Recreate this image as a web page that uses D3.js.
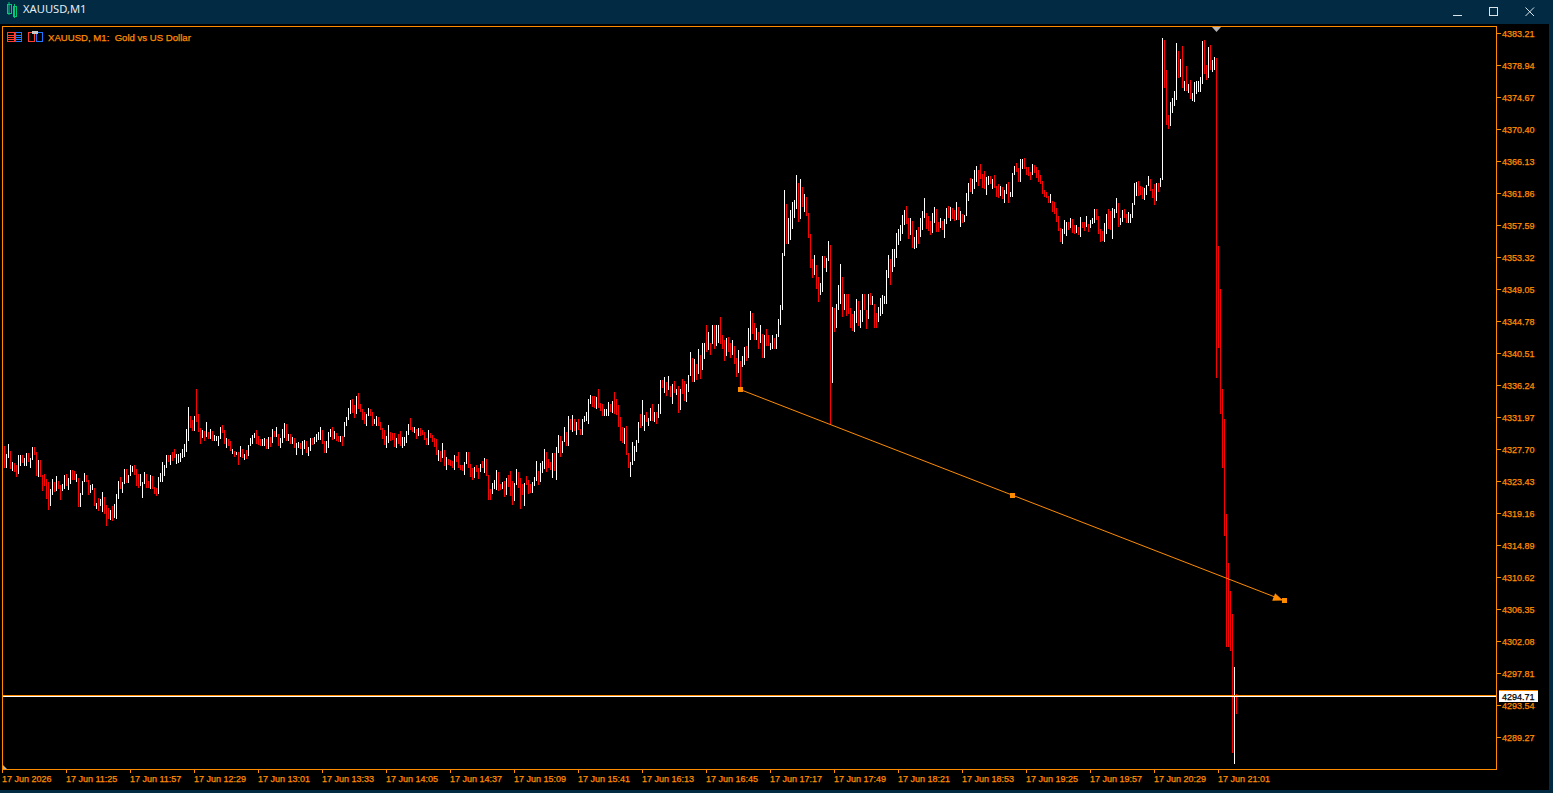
<!DOCTYPE html>
<html><head><meta charset="utf-8"><title>XAUUSD,M1</title>
<script src="https://cdn.jsdelivr.net/npm/d3@7/dist/d3.min.js"></script>
<style>html,body{margin:0;padding:0;background:#032a43;overflow:hidden}svg{display:block}</style>
</head><body><div id="chart"></div>
<script>
const symbolTitle = "XAUUSD,M1";
const chartLabel = "XAUUSD, M1:  Gold vs US Dollar";
const PRICE_BASE = 4280; // bar prices below are dollars above this level
const firstBarTime = "2026-06-17T10:54:00Z";
const highs = [
48.1,47.0,48.4,47.4,46.0,45.8,45.6,46.9,46.9,46.9,
46.5,47.2,47.2,46.5,48.0,48.0,47.3,46.2,46.2,44.2,
44.4,43.7,43.3,42.4,43.7,43.3,44.1,43.4,42.9,43.0,
44.2,44.4,43.8,44.9,44.9,44.8,44.4,43.8,41.8,43.4,
44.5,44.2,43.6,42.9,43.0,42.5,40.5,41.2,41.0,42.0,
41.3,40.2,39.8,39.5,40.1,40.3,41.7,43.4,43.9,43.3,
45.0,45.0,44.2,45.6,45.4,45.6,45.0,44.4,44.4,43.3,
44.6,44.4,43.4,44.2,44.1,42.6,42.5,44.0,44.5,46.0,
45.6,46.9,46.9,46.9,47.3,47.7,47.0,47.0,47.2,47.7,
48.4,50.4,53.3,52.1,51.6,52.1,55.7,52.4,50.5,50.2,
50.1,51.3,50.0,50.4,50.1,49.6,49.4,49.4,50.6,50.9,
50.2,49.2,49.0,48.8,47.7,47.4,47.3,47.3,48.1,47.7,
47.0,47.6,48.2,49.2,49.6,49.8,50.2,49.4,49.0,49.0,
49.2,49.0,49.3,49.3,50.4,50.1,50.6,49.7,49.2,50.4,
51.2,51.0,49.7,49.7,49.3,49.2,48.5,48.6,48.5,48.8,
48.9,48.8,48.0,49.2,49.2,49.3,49.7,50.0,50.6,50.2,
48.8,48.8,50.0,50.4,50.6,50.1,49.8,49.4,49.4,49.4,
51.3,52.0,53.2,54.2,54.4,53.6,54.8,55.2,53.7,53.0,
52.6,52.4,53.2,53.0,52.6,51.7,52.1,52.0,51.3,50.5,
50.2,49.4,50.9,50.0,49.8,49.8,49.2,49.7,50.1,49.3,
49.3,50.1,51.0,51.8,50.6,50.6,50.4,50.5,50.5,50.2,
50.0,49.2,50.2,49.8,49.6,49.2,49.0,47.6,47.4,48.5,
47.6,46.6,46.4,46.2,46.1,46.9,46.8,47.3,45.6,45.6,
46.0,47.3,47.3,45.7,45.2,45.3,45.6,45.2,45.7,46.1,
46.5,46.4,44.2,42.4,43.2,43.6,44.9,44.6,43.0,43.3,
43.4,43.8,44.2,44.8,43.4,43.2,45.0,44.6,43.8,43.0,
43.2,44.1,43.6,43.0,43.3,44.0,46.1,44.8,45.8,46.1,
47.7,47.3,46.4,46.0,47.2,47.2,48.0,49.6,49.4,48.8,
50.6,50.0,52.1,51.7,52.2,51.7,51.3,51.7,50.4,51.7,
52.1,52.6,54.4,54.9,54.8,54.8,54.6,55.7,53.8,53.7,
53.0,53.0,54.0,53.7,54.1,55.3,54.4,53.6,52.0,50.6,
50.5,50.8,47.2,46.0,48.6,48.1,48.9,51.3,52.4,54.2,
52.2,52.6,51.8,53.2,53.7,52.6,52.6,53.7,56.9,56.9,
57.3,56.6,57.4,56.1,56.4,56.8,55.7,56.1,55.7,57.0,
56.8,56.4,57.6,60.7,59.8,59.7,59.0,61.0,60.2,61.8,
61.9,64.3,63.3,61.9,64.3,64.3,64.3,64.2,65.3,62.9,
62.2,62.5,62.7,61.8,62.2,61.5,59.9,60.9,59.4,60.1,
61.3,61.4,63.9,66.1,65.8,64.5,63.9,63.3,64.3,63.1,
62.9,63.7,62.9,61.9,62.9,62.5,63.1,65.0,66.9,73.8,
82.2,80.4,78.5,79.6,80.6,80.9,84.2,83.2,83.7,82.6,
81.7,81.3,79.2,76.4,73.0,73.6,72.2,70.6,69.9,73.4,
73.4,73.2,75.4,74.9,66.7,66.5,67.0,69.6,72.4,70.6,
68.4,68.4,68.4,66.5,65.7,66.1,67.7,67.4,66.3,68.4,
68.4,66.2,68.4,68.5,68.1,67.1,65.9,66.7,67.8,68.2,
68.1,71.6,73.6,73.0,74.4,74.4,76.5,77.0,77.6,78.9,
79.6,80.1,78.5,78.5,78.1,76.0,76.9,77.3,78.5,79.5,
81.2,79.2,78.8,78.1,79.2,80.0,79.7,78.0,78.5,78.1,
78.4,79.9,80.1,80.0,79.9,79.6,80.7,80.0,79.5,79.1,
78.9,81.9,83.2,83.9,83.7,84.9,85.5,84.9,85.7,84.4,
84.8,84.0,84.1,84.1,83.7,84.3,82.8,83.1,82.8,82.7,
82.3,83.1,83.3,82.0,84.5,85.5,85.9,85.2,86.4,86.4,
86.5,85.3,85.3,84.7,85.7,85.6,85.3,84.9,84.3,83.5,
82.3,82.0,81.5,81.7,80.8,80.7,79.9,78.8,77.2,77.1,
78.3,78.0,78.0,78.5,78.4,77.6,77.6,77.3,78.7,78.0,
78.0,78.8,77.7,78.3,78.5,79.7,79.7,78.8,77.1,76.8,
77.9,79.1,79.7,79.5,79.9,79.7,81.2,80.5,78.5,79.6,
79.7,79.1,79.3,79.1,80.5,83.2,83.3,83.5,82.8,82.7,
82.5,82.9,84.1,83.7,82.4,83.1,83.2,83.2,83.9,102.6,
102.3,98.3,92.3,94.0,94.6,95.5,101.9,100.8,99.8,101.5,
96.8,98.8,96.4,96.9,95.2,96.7,96.8,96.8,97.4,102.2,
102.3,99.0,101.4,101.6,99.6,100.0,99.9,74.8,69.1,55.7,
51.7,39.0,32.5,28.8,25.7,18.6,15.0];
const lows = [
45.2,45.2,46.5,45.0,44.7,44.6,43.9,44.3,45.4,45.8,
45.4,45.4,46.0,45.2,46.2,46.9,44.1,44.0,44.0,42.1,
42.8,41.0,39.5,40.1,41.6,42.0,42.1,42.4,40.9,42.1,
42.4,42.8,42.2,43.0,43.6,43.6,43.3,39.9,39.9,41.6,
43.3,43.3,41.6,41.8,42.2,40.1,39.7,39.4,40.1,39.3,
39.0,37.4,38.3,38.2,38.1,38.5,38.3,41.0,42.4,41.8,
43.0,43.2,43.2,44.1,44.6,44.2,42.8,42.5,42.8,41.2,
43.0,42.5,42.5,42.4,42.4,41.7,41.4,41.7,43.3,43.3,
44.1,45.2,46.0,45.6,46.1,46.5,45.7,45.8,46.0,46.5,
46.6,47.3,48.8,50.5,50.1,50.1,51.3,50.0,48.4,49.2,
48.8,49.3,49.0,49.0,48.8,48.8,48.8,48.1,49.0,49.8,
48.4,47.8,48.1,47.4,47.0,46.6,46.9,45.6,46.6,46.5,
46.2,46.4,46.8,48.1,48.4,49.2,48.4,48.2,48.1,48.1,
48.1,47.7,47.7,48.0,48.5,49.3,49.3,48.1,47.8,48.5,
49.2,48.8,48.8,48.4,48.4,47.8,46.9,47.8,47.7,46.9,
47.7,47.2,46.8,47.4,48.2,48.4,48.6,48.9,48.9,48.4,
47.2,47.2,47.8,49.3,48.9,49.0,48.8,48.6,48.6,48.1,
49.3,50.8,51.6,52.4,52.5,51.8,52.4,53.0,52.6,51.6,
51.0,50.8,52.1,52.1,50.8,51.0,50.8,50.8,50.2,49.0,
48.2,47.8,48.5,48.8,48.9,48.0,47.8,48.4,48.1,47.8,
48.1,48.5,49.6,50.2,50.0,49.8,49.0,49.4,49.4,49.6,
48.9,48.2,48.2,49.2,48.6,48.0,46.9,46.1,46.0,46.5,
45.4,44.9,45.6,45.4,45.2,44.9,46.0,45.2,44.9,44.8,
44.2,45.7,45.2,44.0,43.6,43.8,44.6,43.7,44.6,45.2,
44.5,44.1,40.9,40.9,41.7,42.4,42.2,42.1,42.2,42.4,
41.3,41.6,42.6,41.4,40.2,40.7,42.9,42.5,39.7,41.6,
40.1,42.9,41.7,41.8,41.8,42.8,43.4,42.9,43.3,44.5,
45.0,44.6,45.2,44.9,43.8,44.8,43.6,47.2,46.6,47.2,
48.6,48.1,48.1,50.2,50.0,50.1,49.6,50.2,49.6,49.6,
51.3,51.4,51.0,53.7,53.3,53.2,53.0,53.2,52.8,52.1,
52.1,52.1,52.1,52.6,52.5,52.4,52.2,50.6,48.8,48.5,
48.4,46.9,45.2,44.0,45.6,46.1,47.3,48.5,50.5,50.8,
50.1,51.3,50.8,51.4,51.4,51.3,51.0,51.8,52.4,55.8,
55.2,54.8,55.6,54.6,53.7,55.2,54.9,52.5,52.9,55.0,
54.1,54.0,55.3,57.5,56.6,56.7,56.9,57.7,57.1,58.3,
59.7,60.7,60.9,60.2,61.7,61.1,61.4,61.8,61.7,61.1,
59.4,60.1,60.6,59.9,60.3,59.1,57.3,57.8,55.9,58.6,
58.9,59.5,59.8,62.3,63.0,62.2,62.2,61.1,61.8,59.9,
59.9,61.5,61.5,60.9,61.0,61.0,61.0,62.7,64.3,66.2,
73.4,75.0,75.0,75.6,77.0,78.5,79.7,78.0,78.4,80.0,
79.3,78.8,75.8,71.8,70.5,70.9,69.0,67.3,68.2,68.6,
71.8,71.3,72.8,50.9,56.5,63.3,63.9,66.2,67.0,65.3,
66.2,65.5,65.7,63.8,63.4,63.3,64.5,64.1,63.9,64.6,
66.2,63.7,65.0,66.9,66.9,63.9,63.8,64.6,65.5,65.7,
67.0,67.0,70.5,69.6,71.3,72.0,73.2,74.9,75.4,76.4,
77.6,77.7,75.7,76.2,74.5,74.4,74.5,75.0,76.0,76.9,
78.5,77.1,76.8,76.3,76.5,77.9,76.7,76.7,77.2,76.9,
75.9,77.7,78.5,78.1,78.4,78.1,78.3,78.3,77.3,77.9,
78.0,78.8,80.8,82.0,81.7,82.4,83.3,82.8,83.7,82.5,
82.4,81.6,82.9,83.1,82.4,82.5,81.3,81.2,81.5,81.1,
80.5,81.7,80.5,81.3,81.3,84.3,84.7,83.3,83.3,85.1,
85.1,84.3,84.1,83.6,84.3,84.5,83.9,83.3,83.1,81.7,
81.3,81.2,80.5,80.5,79.3,79.1,78.0,76.8,75.3,75.1,
76.4,76.1,76.9,77.2,76.5,76.4,76.5,76.3,76.0,77.2,
76.8,77.3,76.7,77.2,77.7,77.9,78.3,76.4,75.3,75.5,
75.3,76.4,77.1,76.9,75.7,78.5,79.2,77.3,77.6,78.0,
78.5,77.9,77.9,77.9,78.5,80.3,81.5,81.5,81.6,81.1,
80.9,81.6,82.8,82.1,81.2,80.3,80.8,82.0,82.7,83.6,
95.9,90.9,90.4,90.8,92.6,93.5,94.3,97.2,97.4,95.9,
95.5,95.5,95.2,94.4,94.2,94.0,95.1,95.4,95.4,96.4,
97.8,97.0,97.2,98.3,98.0,98.3,57.2,61.2,52.4,45.2,
36.1,21.3,21.3,20.7,7.1,5.7,12.3];
const barColours = (
"RWWRWRRWWR"+"WWRWWRRWRR"+"RRRWWRWRRW"+"WRWWRRWRWW"+"WRRWWRWRWW"+
"RRRWRWWWRW"+"WRWWWRRRWW"+"WRRWRRRWWW"+"WWRWRRWWWW"+"WWWRRWRRRW"+
"RWRWRWWWWR"+"RWRRWRWRWR"+"WRWWWWRRRW"+"WRWRWRWRWW"+"WRWRWRWWRW"+
"WRWWRWWWWR"+"RWWWRWRRWR"+"WWWWRRWRRR"+"RWWRRWWRRR"+"RWWRRRWRRW"+
"WWWRRWRWRR"+"RRWRRRRWRW"+"RWRRRWRRRR"+"WWRRRWRRWR"+"WRRRWWWRRW"+
"RWRRRWWRRR"+"WRRRWWWRWW"+"WRRRWRWWRW"+"WRWRWRWRRW"+"WWWWRRWRRR"+
"WWWRWRRRRR"+"WRRWWWWWRW"+"WRWWRWRWWR"+"WRWRWRWRWR"+"RWWWRWRWRW"+
"WRWRWRWWRR"+"RWRRWRRWRW"+"WRWWRRWRWR"+"WRRWWRWWWW"+"WRWWWWWRWR"+
"WRRRRWRRWW"+"RWWRWRWWWR"+"WRRRRWWRWW"+"RRWRWRRWWW"+"WWWRWWWWWW"+
"WRRWRWWRWW"+"WRRRWWRRWR"+"WWRWRRWRWR"+"WWWRWWWRRR"+"RWWRWRRRWR"+
"WWRWWWRRWW"+"RRRRWRRRRR"+"RRRWRRRRRW"+"WWRWRRWRWR"+"RWRWWWRRRR"+
"WWRRWWWRWW"+"RRWWWWWRRR"+"WWWRRRWRWW"+"RRRWWWWRWR"+"WRWRWWWWWW"+
"RRWRWWRRRR"+"RRRRRWR").split("");
const priceTicks = [4383.21,4378.94,4374.67,4370.40,4366.13,4361.86,4357.59,4353.32,4349.05,4344.78,4340.51,4336.24,4331.97,4327.70,4323.43,4319.16,4314.89,4310.62,4306.35,4302.08,4297.81,4293.54,4289.27];
const timeTickStart = "2026-06-17T10:53:00Z";
const timeTickMinutes = 32, timeTickCount = 20;
const lastPrice = 4294.71, alertPrice = 4294.85;
const trendTimes = ["2026-06-17T17:02:00Z","2026-06-17T21:34:00Z"];
const trendPrices = [4335.64,4307.48];

const ORANGE = "#ff8c00", FRAME = "#032a43";
const W = 1553, H = 793, L = 2, R = 1497, T = 26, B = 769;
const svg = d3.select("#chart").append("svg").attr("width",W).attr("height",H);
const rect=(g,x,y,w,h,f)=>g.append("rect").attr("x",x).attr("y",y).attr("width",w).attr("height",h).attr("fill",f).attr("shape-rendering","crispEdges");

// window
rect(svg,0,0,W,H,FRAME);
rect(svg,0,24,1549,766,"#000");
// title bar
const tb = svg.append("g");
[[7,3,4,8],[13,5,3,9]].forEach(c=>{
  tb.append("rect").attr("x",c[0]).attr("y",c[1]+1).attr("width",c[2]).attr("height",c[3]+1).attr("fill","none").attr("stroke","#00c878").attr("stroke-width",1).attr("shape-rendering","crispEdges");
  tb.append("line").attr("x1",c[0]+c[2]/2).attr("x2",c[0]+c[2]/2).attr("y1",c[1]-1).attr("y2",c[1]+c[3]+4).attr("stroke","#00c878");
});
tb.append("text").attr("x",23).attr("y",13).attr("fill","#e4edf2").attr("font-family","'Noto Sans',sans-serif").attr("font-size",11.2).text(symbolTitle);
rect(tb,1453,15,9,1,"#d8e4ea");
tb.append("rect").attr("x",1489.5).attr("y",7.5).attr("width",8).attr("height",8).attr("fill","none").attr("stroke","#d8e4ea").attr("shape-rendering","crispEdges");
tb.append("path").attr("d","M1525.5 7.5L1534 16M1534 7.5L1525.5 16").attr("stroke","#d8e4ea").attr("fill","none");

// scales
const x = d3.scaleUtc().domain([new Date(timeTickStart), new Date(new Date(timeTickStart).getTime()+60000)]).range([2,4]);
const y = d3.scaleLinear().domain([priceTicks[0], priceTicks[priceTicks.length-1]]).range([33,737]);
const t0 = new Date(firstBarTime).getTime();
const bars = highs.map((h,i)=>({t:new Date(t0+i*60000),hi:PRICE_BASE+h,lo:PRICE_BASE+lows[i],c:barColours[i]}));

// bars
svg.append("g").selectAll("rect").data(bars).join("rect")
  .attr("x",d=>Math.round(x(d.t))).attr("width",1)
  .attr("y",d=>Math.round(y(d.hi))).attr("height",d=>Math.max(1,Math.round(y(d.lo))-Math.round(y(d.hi))))
  .attr("fill",d=>d.c==="R"?"#ff0000":"#ffffff").attr("shape-rendering","crispEdges");

// levels
rect(svg,L+1,Math.round(y(alertPrice)),R-L-1,1,ORANGE);
rect(svg,L+1,Math.round(y(lastPrice)),R-L-1,1,"#ffffff");

// trend line with arrow
const tp = trendTimes.map((t,i)=>[x(new Date(t)),y(trendPrices[i])]);
const tg = svg.append("g");
tg.append("line").attr("x1",tp[0][0]).attr("y1",tp[0][1]).attr("x2",tp[1][0]).attr("y2",tp[1][1]).attr("stroke",ORANGE).attr("stroke-width",1);
const ang = Math.atan2(tp[1][1]-tp[0][1],tp[1][0]-tp[0][0]);
const tip=[tp[1][0]-1,tp[1][1]];
const arrow=[tip,
 [tip[0]-10*Math.cos(ang)+4*Math.sin(ang),tip[1]-10*Math.sin(ang)-4*Math.cos(ang)],
 [tip[0]-10*Math.cos(ang)-4*Math.sin(ang),tip[1]-10*Math.sin(ang)+4*Math.cos(ang)]];
tg.append("path").attr("d",d3.line()(arrow)+"Z").attr("fill",ORANGE);
const sq=(p,s)=>rect(tg,Math.round(p[0]-s/2),Math.round(p[1]-s/2),s,s,ORANGE);
sq(tp[0],5); sq([(tp[0][0]+tp[1][0])/2,(tp[0][1]+tp[1][1])/2],5); sq(tp[1],5);

// markers
svg.append("path").attr("d","M1212 27H1221L1216.5 32Z").attr("fill","#b4b4b4");
svg.append("path").attr("d","M3 765L7 769H3Z").attr("fill","#b4b4b4");

// frame
svg.append("rect").attr("x",L+.5).attr("y",T+.5).attr("width",R-L-1).attr("height",B-T-.5).attr("fill","none").attr("stroke",ORANGE).attr("shape-rendering","crispEdges");

// axes
const FONT="'Liberation Sans',Arial,sans-serif";
const labelText=(g,xp,yp,fill,size,s)=>g.append("text").attr("x",xp).attr("y",yp).attr("fill",fill).attr("stroke",fill).attr("stroke-width",0.25).attr("font-family",FONT).attr("font-size",size).style("white-space","pre").text(s);
const yAxis = svg.append("g");
priceTicks.forEach(p=>{
  rect(yAxis,R,Math.round(y(p)),4,1,ORANGE);
  labelText(yAxis,1502,Math.round(y(p))+4,ORANGE,9,p.toFixed(2));
});
const fmtD=d3.utcFormat("%d %b %H:%M"), fmtF=d3.utcFormat("%d %b %Y");
const xAxis = svg.append("g");
d3.range(timeTickCount).forEach(k=>{
  const d=new Date(new Date(timeTickStart).getTime()+k*timeTickMinutes*60000);
  const px=x(d);
  rect(xAxis,px,B,1,4,ORANGE);
  labelText(xAxis,px,782,ORANGE,9,k===0?fmtF(d):fmtD(d));
});

// last price label
rect(svg,1499,690,39,1,ORANGE);
rect(svg,1499,691,39,11,"#fff");
labelText(svg,1502,700,"#000",9,lastPrice.toFixed(2));

// chart label and icons
const ic = svg.append("g");
const RED="#ff3c30", BLUE="#1e78ff";
const frameIcon=(x0,w,c)=>ic.append("rect").attr("x",x0+.5).attr("y",32.5).attr("width",w).attr("height",9).attr("fill","none").attr("stroke",c).attr("shape-rendering","crispEdges");
frameIcon(7,7,RED); frameIcon(15,6,BLUE);
[35,37,39].forEach(v=>{rect(ic,8,v,6,1,RED);rect(ic,16,v,5,1,BLUE);});
frameIcon(28,6,RED); frameIcon(36,6,BLUE);
rect(ic,29,33,5,5,"#000");
rect(ic,32,31,6,3,"#c8c8c8");
labelText(svg,48,41,ORANGE,9.6,chartLabel);
</script></body></html>
